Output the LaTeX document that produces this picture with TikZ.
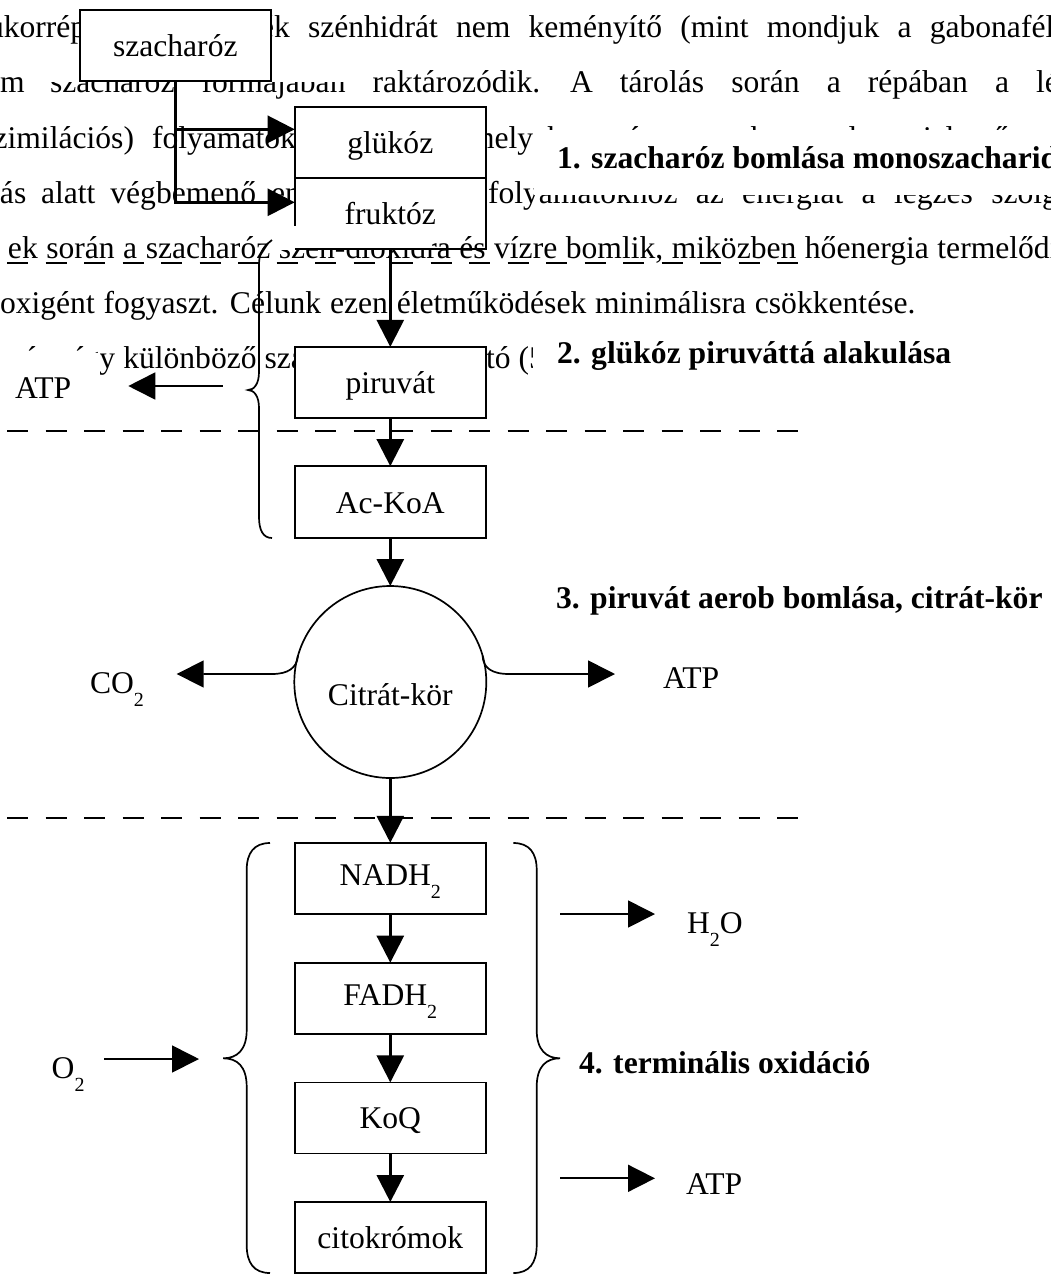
\documentclass[tikz,border=0pt]{standalone}
\usepackage{fontspec}
\setmainfont{Liberation Serif}
\usetikzlibrary{arrows.meta}
\newcommand\lsub[1]{\raisebox{-0.42em}{\fontsize{20}{20}\selectfont #1}}
\begin{document}
\begin{tikzpicture}[x=1pt,y=-1pt,font=\fontsize{31.6}{38}\selectfont,
  txt/.style={anchor=base west,inner sep=0pt,outer sep=0pt},
  txtR/.style={anchor=base east,inner sep=0pt,outer sep=0pt},
  lab/.style={txt,font=\fontsize{31.6}{38}\selectfont\bfseries},
  box/.style={draw,line width=1.7pt,fill=white,minimum width=191pt,minimum height=71pt,
    inner sep=0pt,outer sep=0pt,text height=24pt,text depth=2pt},
  subbox/.style={box,text depth=10pt},
  flow/.style={line width=2.7pt,-{Triangle[length=27pt,width=27pt]}},
  side/.style={line width=1.7pt,-{Triangle[length=27pt,width=27pt]}},
  bracepath/.style={line width=1.7pt},
  sepline/.style={line width=2pt,dash pattern=on 21pt off 17.5pt}]
\useasboundingbox (0,0) rectangle (1051,1275);
\fill[white] (0,0) rectangle (1051,1275);
\clip (0,0) rectangle (1051,1275);

% background paragraph text
\node[txt]  (l1a) at (-12,37) {ukorrépában};
\node[txtR] (l1b) at (290,37) {tartalék};
\node[txt]  (l1c) at (308,37) {\spaceskip=18.2pt\relax szénhidrát nem keményítő (mint mondjuk a gabonaféléknél)};
\node[txtR] (l2a) at (24.6,92.5) {hanem};
\node[txt]  (l2b) at (50,92.5) {\spaceskip=27.1pt\relax szacharóz formájában raktározódik. A tárolás során a répában a légzési};
\node[txtR] (l3a) at (134,148) {(disszimilációs)};
\node[txt]  (l3b) at (152,148) {\spaceskip=25pt\relax folyamatok zajlanak,};
\node[txt]  (l3c) at (470,148) {\spaceskip=25pt\relax melyek során a cukortartalom jelentős része elvész, mivel a};
\node[txtR] (l4a) at (26.3,203) {tárolás};
\node[txt]  (l4b) at (41,203) {\spaceskip=15pt\relax alatt végbemenő energetikai};
\node[txt]  (l4c) at (488,203) {\spaceskip=18.3pt\relax folyamatokhoz az energiát a légzés szolgáltatja.};
\node[txt]  (l6) at (0,313) {\spaceskip=8.8pt\relax oxigént fogyaszt. Célunk ezen életműködések minimálisra csökkentése.};
\node[txt]  (l7a) at (12.5,368) {\spaceskip=8pt\relax répa így különböző szakaszokban};
\node[txt]  (l7b) at (452.7,368) {\spaceskip=8pt\relax tartó (5\%)};

% white areas of the text boxes
\fill[white] (45,45) rectangle (352,81.5);
\fill[white] (-1,352.5) rectangle (100,420);

% boxes
\node[box,minimum width=190.7pt] (szach) at (175.3,45.5) {szacharóz};
\node[box] (gluk) at (390.3,142.2) {glükóz};
\node[box] (fruk) at (390.3,213.3) {fruktóz};
\node[box] (piru) at (390.3,382.4) {piruvát};
\node[box,minimum height=72pt] (acoa) at (390.3,502.2) {Ac-KoA};
\node[circle,draw,line width=1.7pt,fill=white,minimum size=192pt,inner sep=0pt,outer sep=0pt,
  text height=47.4pt,text depth=0pt] (citrat) at (390.3,682) {Citrát-kör};
\node[subbox] (nadh) at (390.3,878.3) {NADH\lsub{2}};
\node[subbox] (fadh) at (390.3,998.2) {FADH\lsub{2}};
\node[box] (koq) at (390.3,1117.9) {KoQ};
\node[box] (cito) at (390.3,1237.5) {citokrómok};

% line 5 of the paragraph
\node[txt] (l5) at (8,258) {\spaceskip=8.5pt\relax ek során a szacharóz szén-dioxidra és vízre bomlik, miközben hőenergia termelődik,};
\fill[white] (275,226) rectangle (432,249.5);
\draw[line width=1.7pt] (fruk.south west) -- (fruk.south east);

% flow connectors
\coordinate (g1) at (294.7,129.3);
\coordinate (f1) at (294.7,202.3);
\draw[flow] (szach.south) |- (g1);
\draw[flow] (szach.south) |- (f1);
\draw[flow] (fruk) -- (piru);
\draw[flow] (piru) -- (acoa);
\draw[flow] (acoa) -- (citrat);
\draw[flow] (citrat) -- (nadh);
\draw[flow] (nadh) -- (fadh);
\draw[flow] (fadh) -- (koq);
\draw[flow] (koq) -- (cito);

% braces
\draw[bracepath] (272,240) .. controls (263,247) and (259,253) .. (259,265) -- (259,372)
  .. controls (259,384) and (254,390) .. (248,390) .. controls (254,390) and (259,396) .. (259,408)
  -- (259,517) .. controls (259,530) and (263,538) .. (272,538);
\draw[bracepath] (270,843) .. controls (254,843) and (246.7,853) .. (246.7,870) -- (246.7,1030)
  .. controls (246.7,1050) and (237,1058.3) .. (223.3,1058.3) .. controls (237,1058.3) and (246.7,1066) .. (246.7,1087)
  -- (246.7,1245) .. controls (246.7,1263) and (254,1273) .. (270,1273);
\draw[bracepath] (513.4,843) .. controls (529.4,843) and (536.7,853) .. (536.7,870) -- (536.7,1030)
  .. controls (536.7,1050) and (546.4,1058.3) .. (560.1,1058.3) .. controls (546.4,1058.3) and (536.7,1066) .. (536.7,1087)
  -- (536.7,1245) .. controls (536.7,1263) and (529.4,1273) .. (513.4,1273);

% side arrows
\coordinate (atpLs) at (222.7,386);
\coordinate (atpLe) at (128.3,386);
\draw[side] (atpLs) -- (atpLe);
\coordinate (co2e) at (176.7,674);
\draw[side] (citrat.164) .. controls (297,668) and (288,674) .. (272,674) -- (co2e);
\coordinate (atpRe) at (615,674);
\draw[side] (citrat.16) .. controls (483,668) and (492,674) .. (509,674) -- (atpRe);
\coordinate (o2s) at (104,1059);
\coordinate (o2e) at (199,1059);
\draw[side] (o2s) -- (o2e);
\coordinate (h2os) at (560,914);
\coordinate (h2oe) at (655,914);
\draw[side] (h2os) -- (h2oe);
\coordinate (atpBs) at (560,1178.3);
\coordinate (atpBe) at (655,1178.3);
\draw[side] (atpBs) -- (atpBe);

% separators
\draw[sepline] (7,263) -- (798,263);
\draw[sepline] (7,431) -- (798,431);
\draw[sepline] (7,818) -- (798,818);

% stage labels
\fill[white] (534,130) rectangle (1052,195);
\fill[white] (533,330) rectangle (1052,395);
\node[lab] (lab1) at (557,168) {1. szacharóz bomlása monoszacharidokra};
\node[lab] (lab2) at (557,363) {2. glükóz piruváttá alakulása};
\node[lab] (lab3) at (556,608) {3. piruvát aerob bomlása, citrát-kör};
\node[lab] (lab4) at (579,1073) {4. terminális oxidáció};

% substance labels
\node[txt] (atpL) at (15,398) {ATP};
\node[txt] (co2) at (90,693) {CO\lsub{2}};
\node[txt] (atpR) at (663,688) {ATP};
\node[txt] (o2) at (51.7,1078) {O\lsub{2}};
\node[txt] (h2o) at (687,933) {H\lsub{2}O};
\node[txt] (atpB) at (686,1194) {ATP};
\end{tikzpicture}
\end{document}
